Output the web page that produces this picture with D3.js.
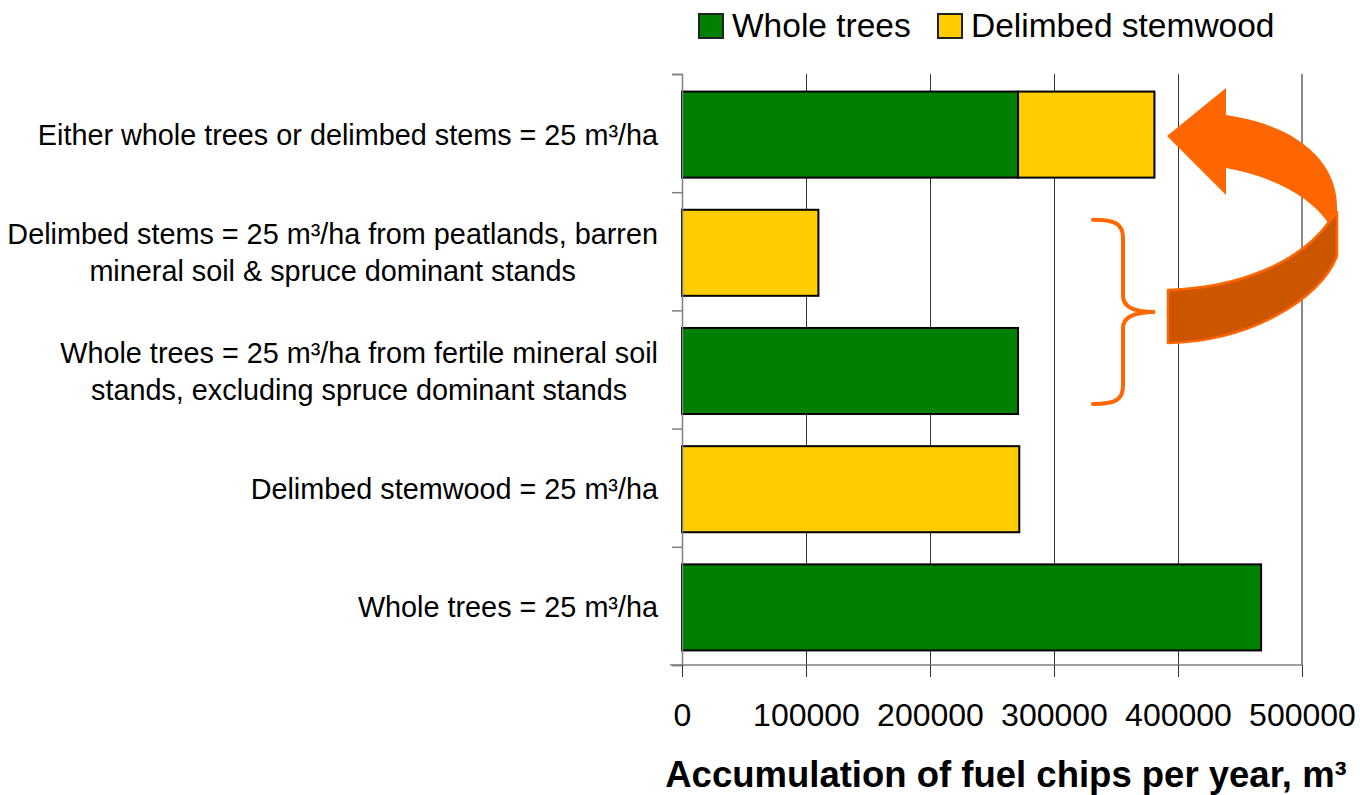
<!DOCTYPE html>
<html>
<head>
<meta charset="utf-8">
<script src="https://cdn.jsdelivr.net/npm/d3@7"></script>
<style>
  html, body { margin: 0; padding: 0; background: #fff; }
  svg { display: block; font-family: "Liberation Sans", Arial, sans-serif; }
</style>
</head>
<body>
<svg id="chart" width="1360" height="795"></svg>
<script>
// Categories, top to bottom; each label is split into its display lines
const categories = [
  "Either whole trees or delimbed stems = 25 m³/ha",
  "Delimbed stems = 25 m³/ha from peatlands, barren mineral soil & spruce dominant stands",
  "Whole trees = 25 m³/ha from fertile mineral soil stands, excluding spruce dominant stands",
  "Delimbed stemwood = 25 m³/ha",
  "Whole trees = 25 m³/ha"
];
const categoryLines = [
  ["Either whole trees or delimbed stems = 25 m³/ha"],
  ["Delimbed stems = 25 m³/ha from peatlands, barren", "mineral soil & spruce dominant stands"],
  ["Whole trees = 25 m³/ha from fertile mineral soil", "stands, excluding spruce dominant stands"],
  ["Delimbed stemwood = 25 m³/ha"],
  ["Whole trees = 25 m³/ha"]
];

// Accumulation of fuel chips per year, m³
const seriesNames = ["Whole trees", "Delimbed stemwood"];
const wholeTrees = [271000, 0, 271000, 0, 467000];
const delimbedStemwood = [110000, 110000, 0, 272000, 0];
const seriesColors = ["#008000", "#FFCC00"];

const xTicks = [0, 100000, 200000, 300000, 400000, 500000];
const xTitle = "Accumulation of fuel chips per year, m³";

const svg = d3.select("#chart");
const plot = { left: 682, right: 1302, top: 74, bottom: 665 };

const x = d3.scaleLinear().domain([0, 500000]).range([plot.left, plot.right]);
const y = d3.scaleBand().domain(categories)
  .range([plot.top + 1.5, plot.bottom + 1.5])
  .paddingInner(0.272).paddingOuter(0.136);
// boundaries between category bands
const yIdx = d3.scaleLinear().domain([0, categories.length]).range([plot.top, plot.bottom]);

const rows = categories.map((c, i) => ({
  category: c,
  "Whole trees": wholeTrees[i],
  "Delimbed stemwood": delimbedStemwood[i]
}));
const stacked = d3.stack().keys(seriesNames)(rows);

// vertical gridlines
svg.append("g").selectAll("line")
  .data(xTicks.slice(1))
  .join("line")
  .attr("x1", d => x(d)).attr("x2", d => x(d))
  .attr("y1", plot.top).attr("y2", plot.bottom)
  .attr("stroke", d => d === 500000 ? "#8a8a8a" : "#333")
  .attr("stroke-width", d => d === 500000 ? 1.5 : 1)
  .attr("shape-rendering", "crispEdges");

// bars
svg.append("g").selectAll("g")
  .data(stacked)
  .join("g")
  .attr("fill", (d, i) => seriesColors[i])
  .selectAll("rect")
  .data(d => d.filter(s => s[1] - s[0] > 0))
  .join("rect")
  .attr("x", d => x(d[0]))
  .attr("width", d => x(d[1]) - x(d[0]))
  .attr("y", d => y(d.data.category))
  .attr("height", y.bandwidth())
  .attr("stroke", "#000")
  .attr("stroke-width", 2);

// left axis: tick marks on band boundaries
const leftAxis = svg.append("g")
  .attr("transform", `translate(${plot.left},0)`)
  .call(d3.axisLeft(yIdx).ticks(categories.length).tickSize(10).tickFormat(""));
leftAxis.select(".domain").attr("stroke", "#808080").attr("stroke-width", 1.5);
leftAxis.selectAll(".tick line").attr("stroke", "#808080").attr("stroke-width", 1.5);

// bottom axis
const bottomAxis = svg.append("g")
  .attr("transform", `translate(0,${plot.bottom})`)
  .call(d3.axisBottom(x).tickValues(xTicks).tickSize(12).tickSizeOuter(0)
    .tickFormat(d3.format("d")));
bottomAxis.select(".domain").attr("stroke", "#808080").attr("stroke-width", 1.5)
  .attr("d", `M${plot.left - 12},0H${plot.right}`);
bottomAxis.selectAll(".tick line").attr("stroke", "#333").attr("stroke-width", 1);
bottomAxis.selectAll(".tick text")
  .attr("y", 61).attr("dy", 0)
  .attr("font-size", 32)
  .attr("font-family", "Liberation Sans, Arial, sans-serif")
  .attr("fill", "#000");

// category labels: centred lines, block right-aligned to the axis
const labelRight = 658, lineGap = 37;
categories.forEach((c, i) => {
  const lines = categoryLines[i];
  const cy = y(c) + y.bandwidth() / 2;
  const g = svg.append("g");
  const texts = lines.map((ln, k) => g.append("text")
    .attr("y", cy + (k - (lines.length - 1) / 2) * lineGap + 10)
    .attr("font-size", 28.8)
    .attr("text-anchor", "middle")
    .attr("fill", "#000")
    .text(ln));
  const maxW = d3.max(texts, t => t.node().getComputedTextLength());
  texts.forEach(t => t.attr("x", labelRight - maxW / 2));
});

// axis title
svg.append("text")
  .attr("x", 1006)
  .attr("y", 787)
  .attr("text-anchor", "middle")
  .attr("font-size", 36.5)
  .attr("font-weight", "bold")
  .attr("fill", "#000")
  .text(xTitle);

// legend
const legend = svg.append("g");
const legendX = [699, 938];
seriesNames.forEach((name, i) => {
  legend.append("rect")
    .attr("x", legendX[i]).attr("y", 14)
    .attr("width", 24).attr("height", 24)
    .attr("fill", seriesColors[i])
    .attr("stroke", "#222").attr("stroke-width", 2);
  legend.append("text")
    .attr("x", legendX[i] + 33).attr("y", 37)
    .attr("font-size", 33.5)
    .attr("fill", "#000")
    .text(name);
});

// brace grouping the two partial-harvest categories
const b1 = y(categories[1]) + 10, b2 = y(categories[2]) + y.bandwidth() - 10;
const bm = (b1 + b2) / 2, bx = 1123;
svg.append("path")
  .attr("d", `M1093,${b1} C1115,${b1} 1123,${b1 + 4} ${bx},${b1 + 18}
              L${bx},${bm - 16} C${bx},${bm - 4} 1135,${bm} 1155,${bm}
              C1135,${bm} ${bx},${bm + 4} ${bx},${bm + 16}
              L${bx},${b2 - 18} C1123,${b2 - 4} 1115,${b2} 1093,${b2}`)
  .attr("fill", "none")
  .attr("stroke", "#FF6600")
  .attr("stroke-width", 4)
  .attr("stroke-linecap", "round");

// curved ribbon arrow pointing to the combined bar
const arrow = svg.append("g");
arrow.append("path")
  .attr("d", `M1168,290 C1240,288 1300,262 1329,222 L1337,212 L1337,256
              C1320,300 1250,341 1168,343 Z`)
  .attr("fill", "#CC5500")
  .attr("stroke", "#FF6600")
  .attr("stroke-width", 2.5)
  .attr("stroke-linejoin", "round");
arrow.append("path")
  .attr("d", `M1167,136 L1226,88 L1226,115 C1295,125 1337,160 1337,207
              L1337,214 L1329,224 C1310,195 1270,176 1226,168 L1226,195 Z`)
  .attr("fill", "#FF6600");
</script>
</body>
</html>
